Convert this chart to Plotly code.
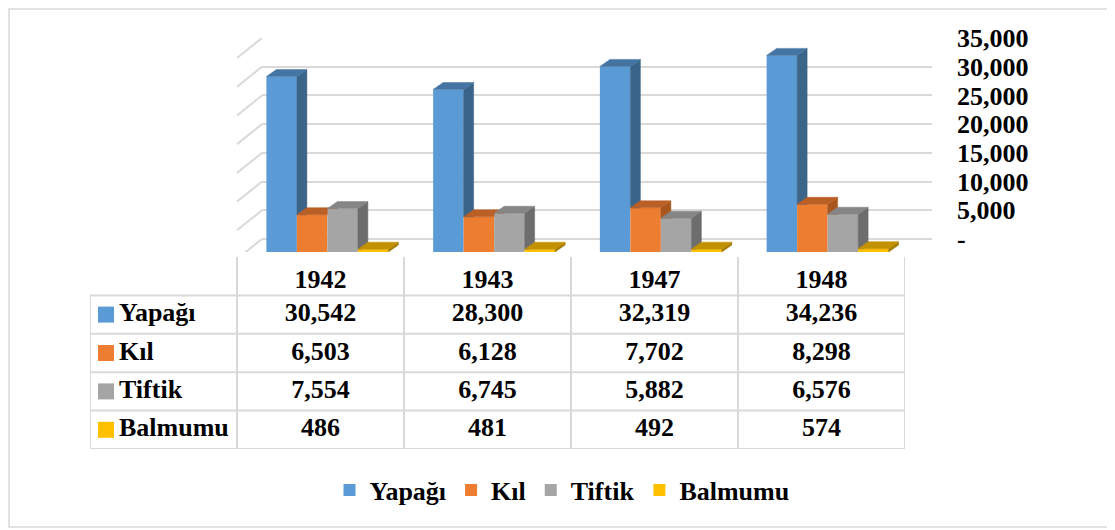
import plotly.graph_objects as go

years = ["1942", "1943", "1947", "1948"]
series_names = ["Yapağı", "Kıl", "Tiftik", "Balmumu"]
yapagi = [30542, 28300, 32319, 34236]
kil = [6503, 6128, 7702, 8298]
tiftik = [7554, 6745, 5882, 6576]
balmumu = [486, 481, 492, 574]
y_tick_vals = [0, 5000, 10000, 15000, 20000, 25000, 30000, 35000]
y_tick_text = ["-", "5,000", "10,000", "15,000", "20,000", "25,000", "30,000", "35,000"]

series_values = [yapagi, kil, tiftik, balmumu]
front_colors = ["#5B9BD5", "#ED7D31", "#A5A5A5", "#FFC000"]
side_colors = ["#3B6489", "#A9561E", "#6D6D6D", "#A37B00"]
top_colors = ["#4474A2", "#BA5F25", "#858585", "#C29100"]

FONT = "Liberation Serif, Times New Roman, serif"
GRID = "#D9D9D9"
W, H = 1115, 530
OFF = 8  # page body margin


def fx(px):
    return (px - OFF) / W


def fy(py):
    return 1 - (py - OFF) / H


# pixel layout of the 3d box
px_per_unit = 201 / 35000          # back wall: 0 at y=239, 35000 at y=38
front_drop = 13 / px_per_unit      # bars stand 13px lower than the back wall
cat_px = 667 / 4
w = 30.5 / cat_px                  # bar width in category units
dx = 10 / cat_px                   # depth offset
dy = 7 / px_per_unit


def clip(poly, axis, limit, keep_above):
    # one-edge Sutherland-Hodgman clip
    out = []
    sign = 1 if keep_above else -1
    for k in range(len(poly)):
        p, q = poly[k], poly[(k + 1) % len(poly)]
        fp = (p[axis] - limit) * sign
        fq = (q[axis] - limit) * sign
        if fp >= 0:
            out.append(p)
        if (fp >= 0) != (fq >= 0):
            t = fp / (fp - fq)
            out.append((p[0] + t * (q[0] - p[0]), p[1] + t * (q[1] - p[1])))
    return out


def poly_xy(polys):
    xs, ys = [], []
    for poly in polys:
        if len(poly) < 3:
            continue
        for p in poly + [poly[0]]:
            xs.append(p[0])
            ys.append(p[1])
        xs.append(None)
        ys.append(None)
    return xs, ys


fig = go.Figure()

for j, (name, vals) in enumerate(zip(series_names, series_values)):
    xc = [i - 2 * w + w * (j + 0.5) for i in range(len(years))]
    fig.add_trace(go.Bar(
        x=xc, y=vals, width=w, name=name,
        marker=dict(color=front_colors[j], line=dict(width=0)),
        xaxis="x2", yaxis="y2", hoverinfo="skip"
    ))

    sides, tops = [], []
    for i, v in enumerate(vals):
        xl = xc[i] - w / 2
        xr = xc[i] + w / 2
        side = [(xr, 0), (xr + dx, dy), (xr + dx, v + dy), (xr, v)]
        top = [(xl, v), (xr, v), (xr + dx, v + dy), (xl + dx, v + dy)]
        if j < len(series_values) - 1:
            n = series_values[j + 1][i]
            sides.append(clip(side, 1, n, True))
            if n > v:
                tops.append(clip(top, 0, xr, False))
                tops.append(clip(clip(top, 0, xr, True), 1, n, True))
            else:
                tops.append(top)
        else:
            sides.append(side)
            tops.append(top)

    for polys, col in [(sides, side_colors[j]), (tops, top_colors[j])]:
        px_, py_ = poly_xy(polys)
        fig.add_trace(go.Scatter(
            x=px_, y=py_, mode="lines", fill="toself", fillcolor=col,
            line=dict(color=col, width=0.5), showlegend=False,
            hoverinfo="skip", xaxis="x2", yaxis="y2"
        ))

# data table
label_cols = (237 - 90) / 167
x3_left = -0.5 - label_cols
cell_font = dict(family=FONT, size=26, color="black", weight="bold")
for r, (name, vals) in enumerate(zip(series_names, series_values), start=1):
    fig.add_trace(go.Scatter(
        x=list(range(len(years))), y=[r] * len(years), mode="text",
        text=[f"{v:,}" for v in vals], textfont=cell_font,
        showlegend=False, hoverinfo="skip", xaxis="x3", yaxis="y3"
    ))

fig.add_trace(go.Scatter(
    x=list(range(len(years))), y=[0.13] * len(years), mode="text", text=years,
    textfont=cell_font, showlegend=False, hoverinfo="skip", xaxis="x3", yaxis="y3"
))

fig.add_trace(go.Scatter(
    x=[x3_left + 16 / 167] * 4, y=[1, 2, 3, 4], mode="markers",
    marker=dict(symbol="square", size=16, color=front_colors),
    showlegend=False, hoverinfo="skip", xaxis="x3", yaxis="y3", cliponaxis=False
))
fig.add_trace(go.Scatter(
    x=[x3_left + 29 / 167] * 4, y=[1, 2, 3, 4], mode="text", text=series_names,
    textposition="middle right", textfont=cell_font,
    showlegend=False, hoverinfo="skip", xaxis="x3", yaxis="y3", cliponaxis=False
))

shapes = []
line = dict(color=GRID, width=2)
# table horizontal lines
for yv in [0.5, 1.5, 2.5, 3.5, 4.5]:
    shapes.append(dict(type="line", xref="x3", yref="y3", x0=x3_left, x1=3.5,
                       y0=yv, y1=yv, line=line))
# table vertical lines
for xv in [-0.5, 0.5, 1.5, 2.5, 3.5]:
    shapes.append(dict(type="line", xref="x3", yref="y3", x0=xv, x1=xv,
                       y0=-0.5, y1=4.5, line=line))
shapes.append(dict(type="line", xref="x3", yref="y3", x0=x3_left, x1=x3_left,
                   y0=0.5, y1=4.5, line=line))
# left wall diagonals
for v in y_tick_vals:
    shapes.append(dict(type="line", xref="paper", x0=fx(237), x1=fx(262),
                       yref="y", ysizemode="pixel", yanchor=v, y0=-20, y1=0,
                       line=line))
# chart border
shapes.append(dict(type="rect", xref="paper", yref="paper", x0=fx(9), x1=fx(1112),
                   y0=fy(527), y1=fy(9), line=dict(color=GRID, width=1.5)))

fig.update_layout(
    width=W, height=H,
    margin=dict(l=0, r=0, t=0, b=0, autoexpand=False),
    paper_bgcolor="white", plot_bgcolor="rgba(0,0,0,0)",
    barmode="overlay",
    showlegend=True,
    legend=dict(orientation="h", x=fx(562), xanchor="center", y=fy(490), yanchor="middle",
                font=cell_font, bgcolor="rgba(0,0,0,0)"),
    xaxis=dict(domain=[fx(262), fx(932)], visible=False, range=[0, 1], anchor="y"),
    yaxis=dict(domain=[fy(252), fy(38)], range=[-front_drop, 35000], anchor="x",
               side="right", tickvals=y_tick_vals, ticktext=y_tick_text,
               showgrid=True, gridcolor=GRID, gridwidth=2, zeroline=False,
               showline=False, ticks="", ticklabelstandoff=24, automargin=False,
               tickfont=cell_font),
    xaxis2=dict(domain=[fx(244), fx(911)], range=[-0.5, 3.5], visible=False, anchor="y2"),
    yaxis2=dict(domain=[fy(252), fy(38)], range=[0, 35000 + front_drop], visible=False,
                anchor="x2"),
    xaxis3=dict(domain=[fx(90), fx(905)], range=[x3_left, 3.5], visible=False, anchor="y3"),
    yaxis3=dict(domain=[fy(449), fy(257)], range=[4.5, -0.5], visible=False, anchor="x3"),
    shapes=shapes,
)

fig.write_html("out.html")
